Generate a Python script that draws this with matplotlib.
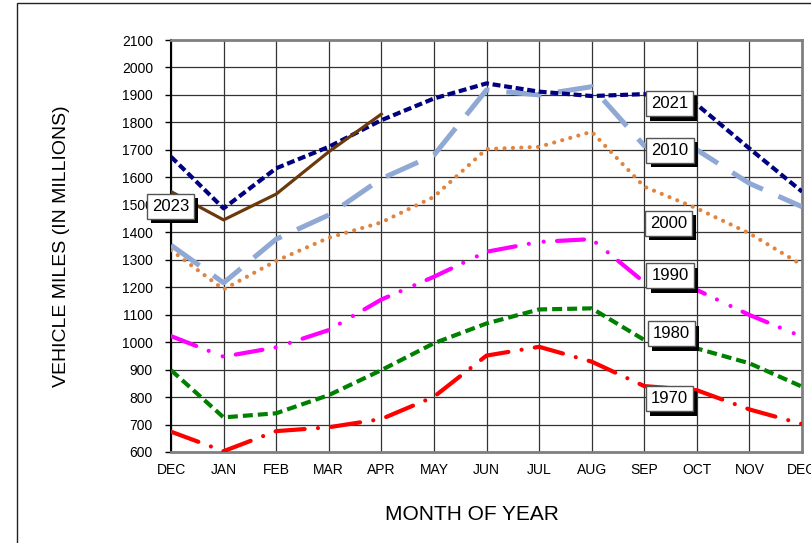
import matplotlib
matplotlib.use("Agg")
import matplotlib.pyplot as plt
import matplotlib.patheffects as pe
from matplotlib.patches import Rectangle

plt.rcParams['font.family'] = ['Liberation Sans', 'DejaVu Sans']

months = ['DEC', 'JAN', 'FEB', 'MAR', 'APR', 'MAY', 'JUN', 'JUL', 'AUG', 'SEP', 'OCT', 'NOV', 'DEC']
y1970 = [674, 603, 676, 690, 720, 801, 951, 983, 929, 840, 825, 755, 702]
y1980 = [898, 726, 741, 807, 898, 996, 1068, 1119, 1123, 1008, 977, 923, 838]
y1990 = [1022, 947, 981, 1044, 1155, 1238, 1329, 1365, 1375, 1218, 1190, 1099, 1020]
y2000 = [1335, 1192, 1296, 1380, 1436, 1529, 1703, 1711, 1766, 1566, 1487, 1396, 1281]
y2010 = [1353, 1216, 1375, 1463, 1595, 1681, 1918, 1900, 1930, 1715, 1700, 1578, 1493]
y2021 = [1675, 1487, 1633, 1711, 1808, 1887, 1942, 1912, 1896, 1903, 1865, 1705, 1548]
y2023 = [1548, 1445, 1539, 1693, 1830]

labels = ['1970', '1980', '1990', '2000', '2010', '2021', '2023']
label_pos = [(9.48, 793), (9.52, 1030), (9.49, 1241), (9.46, 1432), (9.49, 1699), (9.48, 1867), (-0.01, 1495)]

fig = plt.figure(figsize=(8.11, 5.43), dpi=100)
ax = fig.add_axes([171/811, 1-452/543, (802-171)/811, (452-40)/543])

x = list(range(len(months)))

def plot(y, color, lw, dashes, cap='butt'):
    ax.plot(x[:len(y)], y, color=color, lw=lw, dashes=dashes,
            dash_capstyle=cap, solid_capstyle='butt', zorder=3)

plot(y1970, '#FF0000', 3.0, (7, 3.2, 0.01, 3.2), 'round')
plot(y1980, '#008000', 3.0, (2.4, 1.2))
plot(y1990, '#FF00FF', 3.0, (6.5, 3.2, 0.01, 3.6, 0.01, 3.2), 'round')
plot(y2000, '#E0843E', 3.0, (0.01, 2.0), 'round')
plot(y2010, '#8FA9D4', 3.6, (7.0, 3.4))
plot(y2021, '#000080', 3.0, (1.9, 0.9))
ax.plot(x[:len(y2023)], y2023, color='#6B3A0C', lw=2.3, zorder=3)

for lab, (lx, ly) in zip(labels, label_pos):
    t = ax.text(lx, ly, lab, fontsize=12, ha='center', va='center', zorder=10,
                bbox=dict(boxstyle='square,pad=0.3', fc='white', ec='#555555', lw=1))
    t.get_bbox_patch().set_path_effects([
        pe.withSimplePatchShadow(offset=(3, -3), shadow_rgbFace='black', alpha=1)])

ax.set_xlim(0, 12)
ax.set_ylim(600, 2100)
ax.set_xticks(x)
ax.set_xticklabels(months)
ax.set_yticks(range(600, 2101, 100))
ax.tick_params(axis='x', length=0, pad=8, labelsize=10)
ax.tick_params(axis='y', length=4, width=1, pad=9, labelsize=10, direction='out')
ax.grid(True, color='#333333', lw=0.9, zorder=1)
ax.set_axisbelow(True)
for s in ['top', 'right', 'bottom']:
    ax.spines[s].set_color('#808080')
    ax.spines[s].set_linewidth(2)
ax.spines['left'].set_color('black')
ax.spines['left'].set_linewidth(1.5)

fig.text(472/811, 1-514/543, 'MONTH OF YEAR', fontsize=15, ha='center', va='center')
fig.text(62/811, 1-246/543, 'VEHICLE MILES (IN MILLIONS)', fontsize=14, ha='center',
         va='center', rotation=90)

fig.patches.append(Rectangle((17/811, -0.1), 1.2, 1.1 - 3/543, transform=fig.transFigure,
                             fill=False, ec='#222222', lw=1))

fig.savefig('out.png', dpi=100)
